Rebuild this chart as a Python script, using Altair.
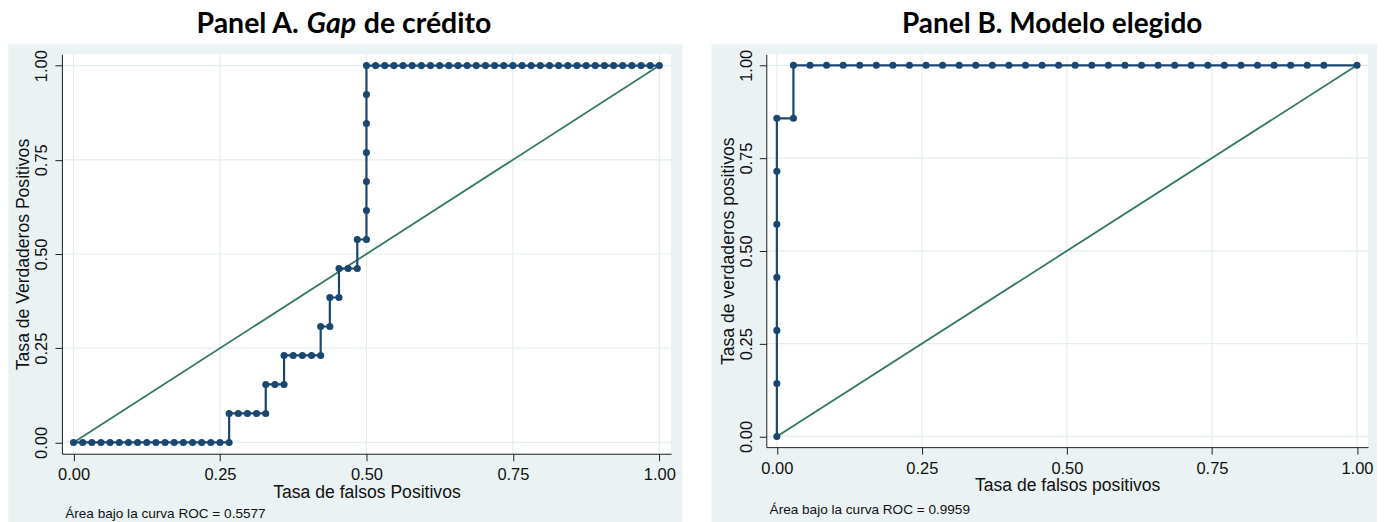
import altair as alt
import pandas as pd

# ---------------- data ----------------
# Panel A: false-positive counts (of 64 negatives) and true-positive counts (of 13 positives)
N_NEG_A = 64
N_POS_A = 13
fp_a = [0, 1, 2, 3, 4, 5, 6, 7, 8, 9, 10, 11, 12, 13, 14, 15, 16, 17,
        17, 18, 19, 20, 21,
        21, 22, 23,
        23, 24, 25, 26, 27,
        27, 28,
        28, 29,
        29, 30, 31,
        31, 32,
        32, 32, 32, 32, 32, 32,
        33, 34, 35, 36, 37, 38, 39, 40, 41, 42, 43, 44, 45, 46, 47, 48,
        49, 50, 51, 52, 53, 54, 55, 56, 57, 58, 59, 60, 61, 62, 63, 64]
tp_a = [0, 0, 0, 0, 0, 0, 0, 0, 0, 0, 0, 0, 0, 0, 0, 0, 0, 0,
        1, 1, 1, 1, 1,
        2, 2, 2,
        3, 3, 3, 3, 3,
        4, 4,
        5, 5,
        6, 6, 6,
        7, 7,
        8, 9, 10, 11, 12, 13,
        13, 13, 13, 13, 13, 13, 13, 13, 13, 13, 13, 13, 13, 13, 13, 13,
        13, 13, 13, 13, 13, 13, 13, 13, 13, 13, 13, 13, 13, 13, 13, 13]

# Panel B: false-positive counts (of 35 negatives) and true-positive counts (of 7 positives)
N_NEG_B = 35
N_POS_B = 7
fp_b = [0, 0, 0, 0, 0, 0, 0,
        1, 1,
        2, 3, 4, 5, 6, 7, 8, 9, 10, 11, 12, 13, 14, 15, 16, 17,
        18, 19, 20, 21, 22, 23, 24, 25, 26, 27, 28, 29, 30, 31, 32, 33,
        35]
tp_b = [0, 1, 2, 3, 4, 5, 6,
        6, 7,
        7, 7, 7, 7, 7, 7, 7, 7, 7, 7, 7, 7, 7, 7, 7, 7,
        7, 7, 7, 7, 7, 7, 7, 7, 7, 7, 7, 7, 7, 7, 7, 7,
        7]

ticks = [0, 0.25, 0.5, 0.75, 1.0]
diag_x = [0, 1]
diag_y = [0, 1]

auc_a = "Área bajo la curva ROC = 0.5577"
auc_b = "Área bajo la curva ROC = 0.9959"

# ---------------- style ----------------
NAVY = "#1a476f"
GREEN = "#337866"
PANEL_BG = "#eaf2f3"
GRID = "#e3edef"
AXIS = "#1e1e1e"
SANS = "Liberation Sans, Arial, Helvetica, sans-serif"
TITLEF = "Lato, Open Sans, sans-serif"


def roc_frame(fp, tp, nneg, npos):
    return pd.DataFrame({
        "fpr": [v / nneg for v in fp],
        "tpr": [v / npos for v in tp],
        "order": list(range(len(fp))),
    })


def panel(df, W, H, xdom, ydom, box, xtitle, ytitle, title_parts, title_size,
          note, note_y, ylab_pad, ytitle_x):
    one = pd.DataFrame({"k": [0]})
    gl, gr, gt, gb, ft = box
    xaxis = alt.Axis(values=ticks, format=".2f", title=xtitle, grid=False,
                     domainColor=AXIS, tickColor=AXIS, tickSize=7, domainWidth=1,
                     labelFont=SANS, labelFontSize=16.5, labelColor="#111",
                     labelPadding=6, labelFlush=False, labelOverlap=False,
                     titleFont=SANS, titleFontSize=17.6, titleFontWeight="normal",
                     titleColor="#111", titleX=W / 2, titleY=43.4,
                     titleAlign="center", titleBaseline="alphabetic", zindex=1)
    yaxis = alt.Axis(values=ticks, format=".2f", title=ytitle, grid=False,
                     domainColor=AXIS, tickColor=AXIS, tickSize=7, domainWidth=1,
                     labelFont=SANS, labelFontSize=16.5, labelColor="#111",
                     labelAngle=270, labelAlign="center", labelBaseline="alphabetic",
                     labelPadding=ylab_pad, labelFlush=False, labelOverlap=False,
                     titleFont=SANS, titleFontSize=17.6, titleFontWeight="normal",
                     titleColor="#111", titleAngle=270, titleX=ytitle_x, titleY=H / 2,
                     titleAlign="center", titleBaseline="alphabetic", zindex=1)
    xs = alt.Scale(domain=xdom, nice=False, zero=False)
    ys = alt.Scale(domain=ydom, nice=False, zero=False)
    X = lambda f: alt.X(f, type="quantitative", scale=xs, axis=xaxis)
    Y = lambda f: alt.Y(f, type="quantitative", scale=ys, axis=yaxis)

    frame = alt.Chart(one).mark_rect(opacity=0).encode(
        x=alt.value(gl), x2=alt.value(gr), y=alt.value(ft), y2=alt.value(gb))
    bg = alt.Chart(one).mark_rect(color=PANEL_BG).encode(
        x=alt.value(gl), x2=alt.value(gr), y=alt.value(gt), y2=alt.value(gb))
    plotbg = alt.Chart(one).mark_rect(color="white").encode(
        x=alt.value(0), x2=alt.value(W), y=alt.value(0), y2=alt.value(H))

    tdf = pd.DataFrame({"t": ticks})
    vgrid = alt.Chart(tdf).mark_rule(color=GRID, strokeWidth=1.2).encode(
        x=X("t"), y=alt.value(0), y2=alt.value(H))
    hgrid = alt.Chart(tdf).mark_rule(color=GRID, strokeWidth=1.2).encode(
        y=Y("t"), x=alt.value(0), x2=alt.value(W))

    ddf = pd.DataFrame({"fpr": diag_x, "tpr": diag_y})
    diag = alt.Chart(ddf).mark_line(color=GREEN, strokeWidth=1.8).encode(
        x=X("fpr"), y=Y("tpr"))
    curve = alt.Chart(df).mark_line(color=NAVY, strokeWidth=2.2).encode(
        x=X("fpr"), y=Y("tpr"), order="order:Q")
    pts = alt.Chart(df).mark_circle(color=NAVY, size=50, opacity=1).encode(
        x=X("fpr"), y=Y("tpr"))

    layers = [frame, bg, plotbg, vgrid, hgrid, diag, curve, pts]
    for txt, xpos, align, style in title_parts:
        layers.append(alt.Chart(one).mark_text(
            font=TITLEF, fontSize=title_size, fontWeight="bold", fontStyle=style,
            align=align, baseline="alphabetic", color="#000").encode(
            x=alt.value(xpos), y=alt.value(-21.3), text=alt.value(txt)))
    layers.append(alt.Chart(one).mark_text(
        font=SANS, fontSize=13.6, align="left", baseline="alphabetic",
        color="#111").encode(x=alt.value(3.3), y=alt.value(note_y), text=alt.value(note)))
    return alt.layer(*layers).properties(width=W, height=H)


dfa = roc_frame(fp_a, tp_a, N_NEG_A, N_POS_A)
dfb = roc_frame(fp_b, tp_b, N_NEG_B, N_POS_B)

WA, HA = 610, 400
WB, HB = 602.6, 393.4

pa = panel(dfa, WA, HA, [-0.0198, 1.0199], [-0.030, 1.030],
           (-53.7, WA + 11.6, -10, 468.7, -45.3),
           "Tasa de falsos Positivos", "Tasa de Verdaderos Positivos",
           [("Panel A.", 237.3, "right", "normal"),
            ("Gap", 245.3, "left", "italic"),
            ("de crédito", 302.3, "left", "normal")],
           28.5, auc_a, 464.7, 8, -33.4)

pb = panel(dfb, WB, HB, [-0.0182, 1.019], [-0.0288, 1.0296],
           (-55, WB + 9, -10, 468.7, -45.3),
           "Tasa de falsos positivos", "Tasa de verdaderos positivos",
           [("Panel B. Modelo elegido", 286.3, "center", "normal")],
           28, auc_b, 460.7, 8, -33)

chart = alt.hconcat(pa, pb, spacing=28.4).properties(
    padding=0, background="white"
).configure_view(stroke=None)

chart.save("out.html", embed_options={"renderer": "svg", "actions": False})
